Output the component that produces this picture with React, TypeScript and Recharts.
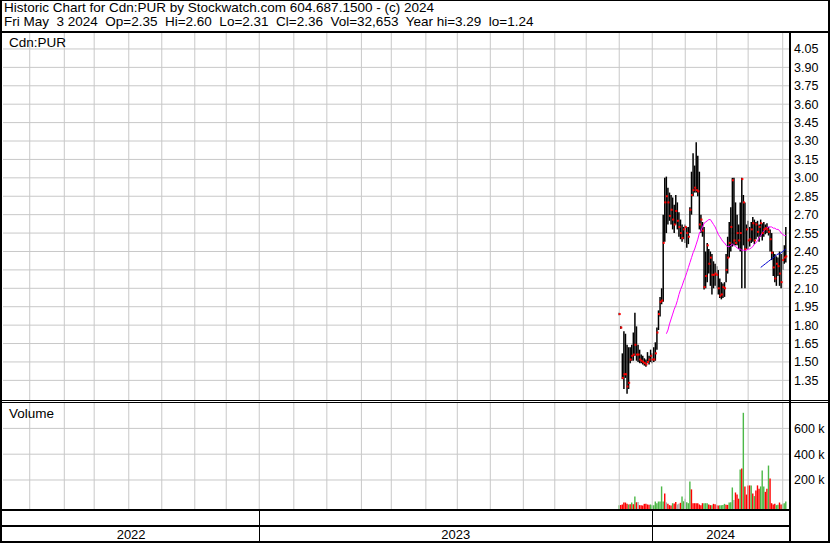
import {
  ComposedChart,
  Bar,
  Line,
  Scatter,
  XAxis,
  YAxis,
  CartesianGrid,
  ReferenceLine,
  Cell,
} from "recharts";

// daily bars for Cdn:PUR, first trading day in December 2023 through May 3 2024
const HIGH = [
  1.9, 1.79, 1.57, 1.75, 1.73, 1.64, 1.62, 1.62, 1.64, 1.74,
  1.9, 1.79, 1.64, 1.6, 1.56, 1.55, 1.53, 1.52, 1.58, 1.55,
  1.6, 1.57, 1.62, 1.66, 1.78, 1.92, 2.03, 2.1, 2.7, 3.0,
  3.01, 2.92, 2.88, 2.86, 2.84, 2.78, 2.86, 2.8, 2.72, 2.66,
  2.62, 2.6, 2.62, 2.6, 2.6, 2.76, 3.05, 3.2, 3.1, 3.29,
  3.18, 3.05, 2.7, 2.64, 2.6, 2.4, 2.47, 2.42, 2.4, 2.38,
  2.32, 2.3, 2.28, 2.25, 2.18, 2.15, 2.14, 2.15, 2.38, 2.52,
  2.64, 2.76, 3.0, 3.0, 2.8, 2.7, 2.62, 2.8, 3.0, 2.86,
  2.8, 2.62, 2.65, 2.6, 2.64, 2.68, 2.66, 2.64, 2.65, 2.62,
  2.66, 2.63, 2.64, 2.62, 2.63, 2.6, 2.58, 2.55, 2.4, 2.38,
  2.36, 2.35, 2.4, 2.38, 2.4, 2.45, 2.6,
];
const LOW = [
  1.88, 1.77, 1.36, 1.28, 1.37, 1.24, 1.28, 1.49, 1.51, 1.51,
  1.55, 1.51, 1.5, 1.49, 1.49, 1.48, 1.47, 1.46, 1.49, 1.48,
  1.5, 1.49, 1.5, 1.51, 1.6, 1.76, 1.87, 1.97, 1.99, 2.48,
  2.55, 2.62, 2.65, 2.62, 2.58, 2.55, 2.62, 2.58, 2.52, 2.5,
  2.48, 2.5, 2.47, 2.43, 2.46, 2.55, 2.7, 2.85, 2.88, 2.88,
  2.85, 2.58, 2.55, 2.52, 2.09, 2.1, 2.15, 2.22, 2.12, 2.05,
  2.1, 2.12, 2.1, 2.05, 2.02, 2.01, 2.02, 2.03, 2.15, 2.22,
  2.35, 2.4, 2.44, 2.45, 2.45, 2.45, 2.42, 2.4, 2.1, 2.45,
  2.1, 2.42, 2.42, 2.44, 2.47, 2.48, 2.46, 2.5, 2.52, 2.48,
  2.52, 2.49, 2.52, 2.54, 2.55, 2.53, 2.4, 2.33, 2.2, 2.15,
  2.12, 2.2, 2.12, 2.1, 2.25, 2.3, 2.31,
];
const CLOSE = [
  1.89, 1.78, 1.37, 1.4, 1.4, 1.3, 1.33, 1.52, 1.55, 1.56,
  1.64, 1.56, 1.56, 1.52, 1.51, 1.5, 1.49, 1.48, 1.5, 1.52,
  1.55, 1.52, 1.52, 1.57, 1.74, 1.89, 1.99, 2.0, 2.47, 2.8,
  2.85, 2.8, 2.69, 2.74, 2.66, 2.62, 2.73, 2.65, 2.6, 2.55,
  2.51, 2.58, 2.6, 2.55, 2.52, 2.74, 2.86, 2.9, 2.92, 2.9,
  2.89, 2.62, 2.66, 2.57, 2.11, 2.2, 2.45, 2.3, 2.35, 2.21,
  2.21, 2.22, 2.21, 2.1, 2.04, 2.05, 2.11, 2.1, 2.25, 2.35,
  2.47, 2.6, 2.98, 2.49, 2.47, 2.55, 2.49, 2.55, 2.99, 2.8,
  2.42, 2.58, 2.49, 2.5, 2.58, 2.63, 2.49, 2.62, 2.56, 2.6,
  2.63, 2.55, 2.58, 2.59, 2.58, 2.56, 2.5, 2.39, 2.27, 2.18,
  2.3, 2.28, 2.22, 2.15, 2.33, 2.35, 2.36,
];
// volume in thousands of shares
const VOLUME_K = [
  5, 6, 10, 25, 25, 15, 10, 12, 25, 12,
  72, 27, 30, 5, 5, 2, 15, 15, 10, 8,
  10, 4, 4, 33, 20, 33, 33, 150, 33, 95,
  26, 15, 5, 3, 20, 18, 30, 10, 15, 23,
  72, 35, 55, 28, 20, 188, 127, 20, 20, 20,
  20, 10, 5, 20, 20, 20, 20, 10, 5, 5,
  15, 12, 4, 3, 4, 4, 6, 15, 7, 7,
  25, 28, 142, 45, 103, 87, 55, 281, 289, 721,
  150, 87, 158, 158, 158, 95, 75, 118, 158, 133,
  150, 273, 150, 108, 133, 312, 212, 20, 10, 15,
  5, 8, 25, 10, 17, 20, 33,
];
// u = up day, d = down day, n = unchanged
const DIRECTION = (
  "udddddudud" + "udnddddddd" + "uuuuuuuuud" + "nddduddnnd" + "uunuuudddd" +
  "dddduuuddu" + "dddduuuudd" + "uuundddudu" + "ddddududdd" + "uuuddudddd" +
  "uudduuu"
).split("");

// moving averages
const MA_PINK_START = 30;
const MA_PINK = [
  1.73, 1.76, 1.81, 1.85, 1.89, 1.93, 1.96, 2.0, 2.05, 2.09,
  2.12, 2.16, 2.19, 2.23, 2.27, 2.31, 2.35, 2.39, 2.42, 2.46,
  2.5, 2.55, 2.57, 2.6, 2.63, 2.64, 2.65, 2.66, 2.66, 2.64,
  2.62, 2.6, 2.57, 2.54, 2.52, 2.5, 2.48, 2.47, 2.45, 2.44,
  2.44, 2.45, 2.46, 2.45, 2.44, 2.43, 2.42, 2.42, 2.41, 2.41,
  2.41, 2.41, 2.42, 2.42, 2.43, 2.44, 2.46, 2.47, 2.49, 2.51,
  2.53, 2.55, 2.57, 2.58, 2.59, 2.6, 2.6, 2.6, 2.59, 2.59,
  2.58, 2.58, 2.57, 2.55, 2.54, 2.53, 2.53,
];
const MA_BLUE_START = 90;
const MA_BLUE = [
  2.27, 2.28, 2.29, 2.3, 2.31, 2.32, 2.33, 2.34, 2.35, 2.36,
  2.37, 2.38, 2.38, 2.39, 2.4, 2.41, 2.42,
];

// x axis counts trading days from mid May 2022
const X_DOMAIN = [0, 500];
const FIRST_DAY = 392;
const MONTH_TICKS = [
  17, 39, 58, 80, 101, 122, 142, 163, 185, 206, 228, 247,
  269, 289, 310, 331, 351, 371, 392, 413, 434, 454, 474, 496,
];
const YEARS = ["2022", "2023", "2024"];
const YEAR_STARTS = [0, 163, 413];

const PRICE_TICKS = [
  1.35, 1.5, 1.65, 1.8, 1.95, 2.1, 2.25, 2.4, 2.55, 2.7, 2.85, 3.0,
  3.15, 3.3, 3.45, 3.6, 3.75, 3.9, 4.05,
];
const PRICE_DOMAIN = [1.19, 4.18];
const VOL_TICKS = [200000, 400000, 600000];
const VOL_DOMAIN = [-25000, 797000];

const HEADER_1 = "Historic Chart for Cdn:PUR by Stockwatch.com 604.687.1500 - (c) 2024";
const HEADER_2 =
  "Fri May  3 2024  Op=2.35  Hi=2.60  Lo=2.31  Cl=2.36  Vol=32,653  Year hi=3.29  lo=1.24";

const rows = CLOSE.map((cl, i) => ({
  t: FIRST_DAY + i,
  hi: HIGH[i],
  lo: LOW[i],
  cl,
  vol: VOLUME_K[i] * 1000,
  dir: DIRECTION[i],
  maPink: i >= MA_PINK_START ? MA_PINK[i - MA_PINK_START] : null,
  maBlue: i >= MA_BLUE_START ? MA_BLUE[i - MA_BLUE_START] : null,
}));

const W = 830;
const H = 543;
const LEFT = 3;
const AXIS_W = 41;
const PLOT_W = W - LEFT - AXIS_W;
const PRICE_TOP = 33;
const PRICE_H = 367;
const VOL_TOP = 403;
const VOL_H = 106;
const FONT = "'Liberation Sans', Arial, sans-serif";
const GRID = "#c8c8c8";
const VOL_COLORS: Record<string, string> = { u: "#4db848", d: "#ff0000", n: "#a8a8a8" };

const xPix = (t: number) =>
  LEFT + ((t - X_DOMAIN[0]) / (X_DOMAIN[1] - X_DOMAIN[0])) * PLOT_W;

const tickStyle = { fontSize: 12.5, fill: "#000", fontFamily: FONT };

const CloseTick = (p: any) => (
  <rect x={p.cx - 0.5} y={p.cy - 1} width={2} height={2} fill="#ff0000" />
);

const monthLines = () =>
  MONTH_TICKS.map((m) => (
    <ReferenceLine key={m} x={m} stroke={GRID} strokeWidth={1} />
  ));

const App = () => {
  const yearEnds = [...YEAR_STARTS.slice(1), X_DOMAIN[1]];
  return (
    <div
      style={{
        position: "absolute",
        left: 0,
        top: 0,
        width: W,
        height: H,
        background: "#fff",
        fontFamily: FONT,
      }}
    >
      <div style={{ position: "absolute", left: 0, top: PRICE_TOP }}>
        <ComposedChart
          width={W}
          height={PRICE_H}
          data={rows}
          margin={{ top: 0, right: 0, bottom: 0, left: LEFT }}
        >
          <CartesianGrid stroke={GRID} vertical={false} horizontalValues={PRICE_TICKS} />
          <XAxis
            type="number"
            dataKey="t"
            domain={X_DOMAIN}
            ticks={MONTH_TICKS}
            allowDataOverflow
            height={0}
            tick={false}
            axisLine={false}
            tickLine={false}
          />
          <YAxis
            orientation="right"
            width={AXIS_W}
            domain={PRICE_DOMAIN}
            ticks={PRICE_TICKS}
            interval={0}
            allowDataOverflow
            axisLine={false}
            tickLine={false}
            tickSize={0}
            tickMargin={5}
            tick={tickStyle}
            tickFormatter={(v: number) => v.toFixed(2)}
          />
          {monthLines()}
          <Bar
            dataKey={(d: any) => [d.lo, d.hi]}
            barSize={1.5}
            fill="#000"
            isAnimationActive={false}
          />
          <Line
            dataKey="maPink"
            stroke="#ff00ff"
            strokeWidth={1}
            dot={false}
            isAnimationActive={false}
          />
          <Line
            dataKey="maBlue"
            stroke="#0000d0"
            strokeWidth={1}
            dot={false}
            isAnimationActive={false}
          />
          <Scatter
            data={rows}
            dataKey="cl"
            shape={CloseTick}
            isAnimationActive={false}
          />
        </ComposedChart>
      </div>

      <div style={{ position: "absolute", left: 0, top: VOL_TOP }}>
        <ComposedChart
          width={W}
          height={VOL_H}
          data={rows}
          margin={{ top: 0, right: 0, bottom: 0, left: LEFT }}
        >
          <CartesianGrid stroke={GRID} vertical={false} horizontalValues={VOL_TICKS} />
          <XAxis
            type="number"
            dataKey="t"
            domain={X_DOMAIN}
            ticks={MONTH_TICKS}
            allowDataOverflow
            height={0}
            tick={false}
            axisLine={false}
            tickLine={false}
          />
          <YAxis
            orientation="right"
            width={AXIS_W}
            domain={VOL_DOMAIN}
            ticks={VOL_TICKS}
            interval={0}
            allowDataOverflow
            axisLine={false}
            tickLine={false}
            tickSize={0}
            tickMargin={5}
            tick={tickStyle}
            tickFormatter={(v: number) => `${v / 1000} k`}
          />
          {monthLines()}
          <Bar
            dataKey={(d: any) => [VOL_DOMAIN[0], d.vol]}
            barSize={2}
            isAnimationActive={false}
          >
            {rows.map((r) => (
              <Cell key={r.t} fill={VOL_COLORS[r.dir]} />
            ))}
          </Bar>
        </ComposedChart>
      </div>

      <svg
        width={W}
        height={H}
        style={{ position: "absolute", left: 0, top: 0, pointerEvents: "none" }}
        fontFamily={FONT}
        fontSize={13.5}
      >
        <text x={4} y={12} style={{ whiteSpace: "pre" }}>{HEADER_1}</text>
        <text x={4} y={26} style={{ whiteSpace: "pre" }}>{HEADER_2}</text>
        <text x={9} y={47}>Cdn:PUR</text>
        <text x={9} y={418}>Volume</text>

        {/* frame */}
        <rect x={0} y={0} width={W} height={1} fill="#000" />
        <rect x={0} y={0} width={2} height={H} fill="#000" />
        <rect x={W - 2} y={0} width={2} height={H} fill="#000" />
        <rect x={0} y={H - 2} width={W} height={2} fill="#000" />
        <rect x={0} y={31} width={W} height={2} fill="#000" />
        <rect x={LEFT + PLOT_W} y={31} width={2} height={H - 31} fill="#000" />
        <rect x={0} y={400} width={W} height={1} fill="#000" />
        <rect x={0} y={402} width={W} height={1} fill="#000" />
        <rect x={0} y={509} width={LEFT + PLOT_W} height={2} fill="#000" />
        <rect x={0} y={525} width={LEFT + PLOT_W} height={2} fill="#000" />

        {YEARS.map((y, i) => {
          const x0 = xPix(YEAR_STARTS[i]);
          const x1 = xPix(yearEnds[i]);
          return (
            <g key={y}>
              {i > 0 && (
                <rect x={Math.round(x0)} y={511} width={1} height={30} fill="#000" />
              )}
              <text x={(x0 + x1) / 2} y={539} textAnchor="middle" fontSize={13}>
                {y}
              </text>
            </g>
          );
        })}
      </svg>
    </div>
  );
};

export default App;
